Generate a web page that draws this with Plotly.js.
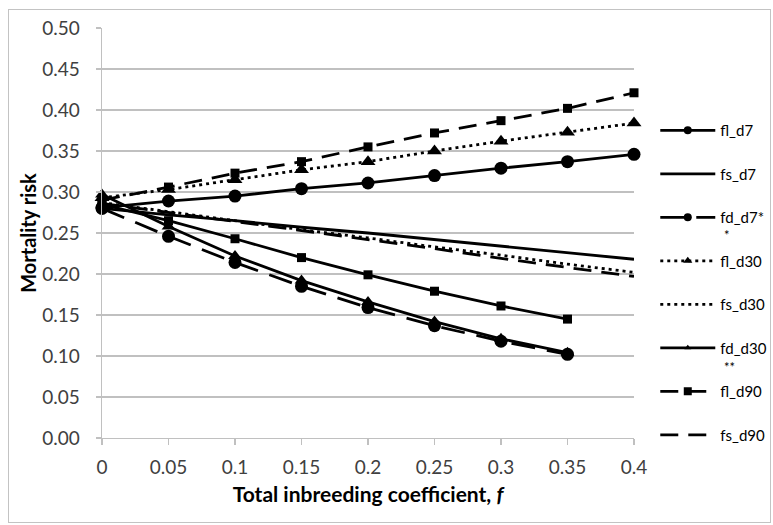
<!DOCTYPE html>
<html>
<head>
<meta charset="utf-8">
<script src="https://cdn.plot.ly/plotly-3.0.1.min.js"></script>
<style>
body{margin:0;background:#fff}
#chart{width:773px;height:525px;position:absolute;left:0;top:0}
#frame{position:absolute;left:8px;top:9px;width:761px;height:512px;border:1px solid #c3c3c3;pointer-events:none}
</style>
</head>
<body>
<div id="chart"></div>
<div id="frame"></div>
<script>
// Data
const fVals   = [0, 0.05, 0.1, 0.15, 0.2, 0.25, 0.3, 0.35, 0.4];
const fValsFd = [0, 0.05, 0.1, 0.15, 0.2, 0.25, 0.3, 0.35];
const xTickText = ['0', '0.05', '0.1', '0.15', '0.2', '0.25', '0.3', '0.35', '0.4'];
const yTickVals = [0, 0.05, 0.1, 0.15, 0.2, 0.25, 0.3, 0.35, 0.4, 0.45, 0.5];

const fl_d7  = [0.281, 0.289, 0.295, 0.304, 0.311, 0.320, 0.329, 0.337, 0.346];
const fs_d7  = [0.280, 0.272, 0.265, 0.257, 0.250, 0.242, 0.234, 0.226, 0.218];
const fd_d7  = [0.280, 0.246, 0.214, 0.185, 0.159, 0.137, 0.118, 0.102];
const fl_d30 = [0.293, 0.303, 0.315, 0.327, 0.337, 0.350, 0.362, 0.373, 0.384];
const fs_d30 = [0.287, 0.276, 0.265, 0.254, 0.244, 0.233, 0.223, 0.212, 0.202];
const fd_d30 = [0.297, 0.258, 0.222, 0.192, 0.166, 0.142, 0.121, 0.104];
const fl_d90 = [0.290, 0.306, 0.323, 0.337, 0.355, 0.372, 0.387, 0.402, 0.421];
const fs_d90 = [0.286, 0.275, 0.264, 0.253, 0.242, 0.231, 0.219, 0.208, 0.197];
const fd_d90 = [0.285, 0.265, 0.243, 0.220, 0.199, 0.179, 0.161, 0.145];

const names = ['fl_d7', 'fs_d7', 'fd_d7*', 'fl_d30', 'fs_d30', 'fd_d30', 'fl_d90', 'fs_d90', 'fd_d90'];

const K = '#000000';
function tr(name, x, y, dash, symbol, msize) {
  const t = {
    type: 'scatter', x: x, y: y, name: name,
    mode: symbol ? 'lines+markers' : 'lines',
    line: {color: K, width: 2.8, dash: dash},
    cliponaxis: false,
    showlegend: false
  };
  if (symbol) t.marker = {symbol: symbol, size: msize, color: K};
  return t;
}
// legend-only sample (small markers as in the reference key)
function lg(name, dash, symbol, msize) {
  const t = {
    type: 'scatter', x: [null], y: [null], name: name, legendgroup: name,
    mode: symbol ? 'lines+markers' : 'lines',
    line: {color: K, width: 2.8, dash: dash},
    showlegend: true
  };
  if (symbol) t.marker = {symbol: symbol, size: msize, color: K};
  return t;
}

const styles = [
  ['solid',     'circle',      13, 8],
  ['solid',     null,          0,  0],
  ['24px,12px', 'circle',      13, 8],
  ['3px,4px',   'triangle-up', 13, 8],
  ['3px,4px',   null,          0,  0],
  ['solid',     'triangle-up', 12, 6],
  ['18px,10px', 'square',      9,  8],
  ['18px,10px', null,          0,  0],
  ['solid',     'square',      9,  8]
];
const series = [fl_d7, fs_d7, fd_d7, fl_d30, fs_d30, fd_d30, fl_d90, fs_d90, fd_d90];
const xs = [fVals, fVals, fValsFd, fVals, fVals, fValsFd, fVals, fVals, fValsFd];

const data = [];
for (let i = 0; i < series.length; i++) {
  data.push(tr(names[i], xs[i], series[i], styles[i][0], styles[i][1], styles[i][2]));
}
for (let i = 0; i < 8; i++) {
  data.push(lg(names[i], styles[i][0], styles[i][1], styles[i][3]));
}

const FONT = 'Lato, "Open Sans", "Liberation Sans", sans-serif';
const grid = '#c0c0c0';

const layout = {
  width: 773, height: 525,
  margin: {l: 102, r: 139, t: 28, b: 87, autoexpand: false},
  paper_bgcolor: '#fff', plot_bgcolor: '#fff',
  font: {family: FONT, color: '#404040'},
  showlegend: true,
  xaxis: {
    range: [0, 0.4],
    tickvals: fVals, ticktext: xTickText,
    showgrid: false, zeroline: false,
    showline: true, linecolor: grid, linewidth: 1.3,
    ticks: 'outside', ticklen: 6, tickcolor: grid, tickwidth: 1.3,
    ticklabelstandoff: 6,
    tickfont: {size: 19, color: '#404040', family: FONT},
    automargin: false,
    title: {text: '<b>Total inbreeding coefficient, <i>f</i></b>', font: {size: 21, color: '#000', family: FONT}, standoff: 10}
  },
  yaxis: {
    range: [0, 0.5],
    tickvals: yTickVals, tickformat: '.2f',
    showgrid: true, gridcolor: grid, gridwidth: 1.3,
    zeroline: false,
    showline: true, linecolor: grid, linewidth: 1.3,
    ticks: 'outside', ticklen: 5, tickcolor: grid, tickwidth: 1.3,
    ticklabelstandoff: 12,
    tickfont: {size: 19, color: '#404040', family: FONT},
    automargin: false,
    title: {text: '<b>Mortality risk</b>', font: {size: 20, color: '#000', family: FONT}, standoff: 0}
  },
  legend: {
    x: 1.04, xanchor: 'left', y: 0.79, yanchor: 'top',
    font: {size: 15, color: '#000', family: FONT},
    itemwidth: 55, tracegroupgap: 21,
    bgcolor: 'rgba(0,0,0,0)', borderwidth: 0
  },
  annotations: [
    {text: '*',  xref: 'paper', yref: 'paper', x: (722 - 102) / 532, y: (438 - 235) / 410, xanchor: 'left', yanchor: 'middle', showarrow: false, font: {size: 13, color: '#000', family: FONT}},
    {text: '**', xref: 'paper', yref: 'paper', x: (722 - 102) / 532, y: (438 - 367) / 410, xanchor: 'left', yanchor: 'middle', showarrow: false, font: {size: 13, color: '#000', family: FONT}}
  ]
};

Plotly.newPlot('chart', data, layout, {displayModeBar: false, staticPlot: true});
</script>
</body>
</html>
